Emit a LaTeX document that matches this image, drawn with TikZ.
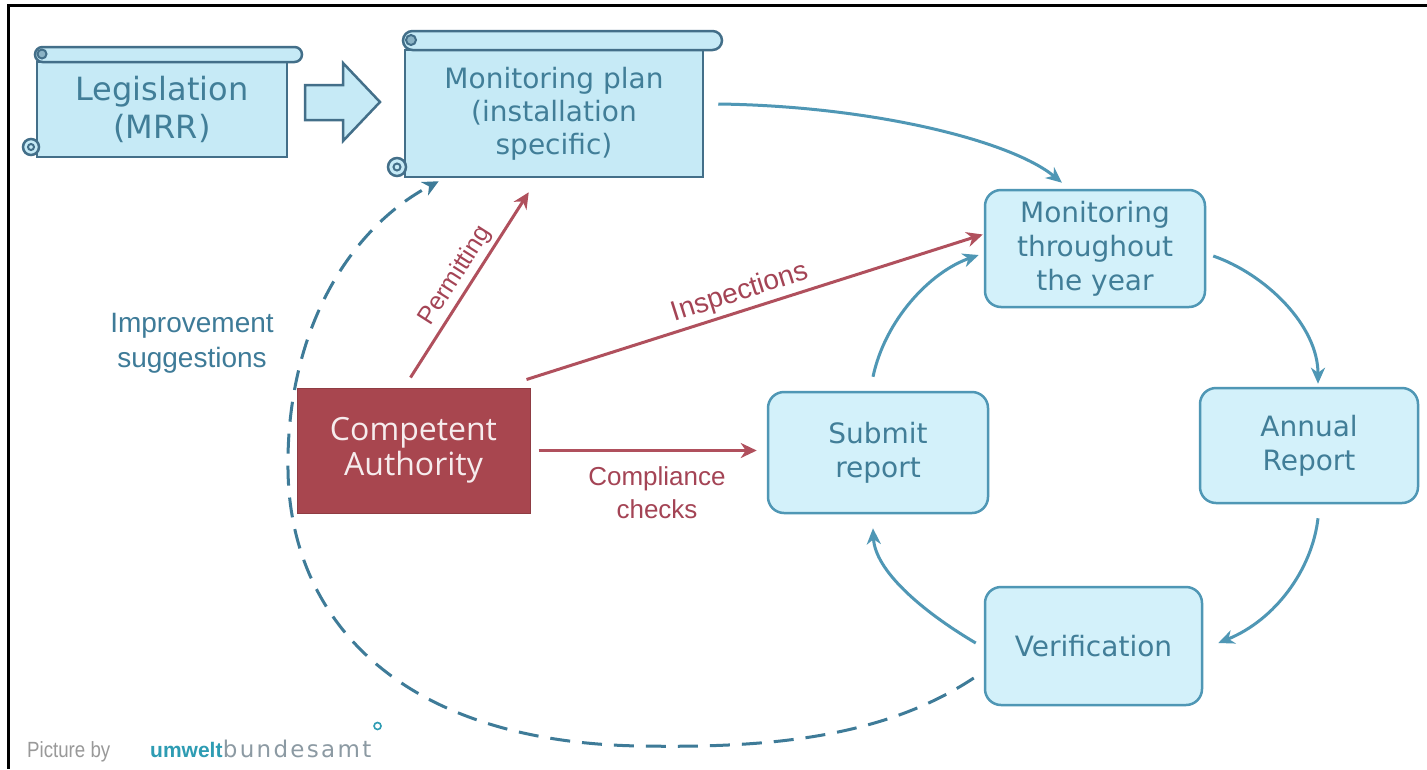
\documentclass[tikz,border=0pt]{standalone}
\usepackage{fontspec}
\setmainfont{DejaVu Sans}
\newfontfamily\labelfont{Liberation Sans}
\newfontfamily\authfont{Open Sans}
\usetikzlibrary{arrows.meta,calc}

\definecolor{cyanfill}{HTML}{D3F1FA}
\definecolor{scrollfill}{HTML}{C6EAF6}
\definecolor{cyanline}{HTML}{4F97B5}
\definecolor{scrollline}{HTML}{436F89}
\definecolor{cyantext}{HTML}{417E98}
\definecolor{authfill}{HTML}{A8464F}
\definecolor{redline}{HTML}{B0505D}
\definecolor{redtext}{HTML}{A44455}
\definecolor{dashblue}{HTML}{3E7B98}
\definecolor{ubateal}{HTML}{2E9CB3}
\definecolor{ubagray}{HTML}{8C9AA3}

\tikzset{
  roundbox/.style={draw=cyanline, fill=cyanfill, line width=2.5pt, rounded corners=16pt,
    text=cyantext, font=\fontsize{28}{34}\selectfont, align=center, inner sep=0pt},
  scrollbody/.style={draw=scrollline, fill=scrollfill, line width=2.5pt,
    text=cyantext, align=center, inner sep=0pt},
  scrolldeco/.style={draw=scrollline, fill=scrollfill, line width=2.5pt},
  authbox/.style={fill=authfill, draw=authfill!85!black, line width=1pt,
    text=white!90!authfill, font=\authfont\fontsize{32}{35}\selectfont, align=center},
  redarrow/.style={draw=redline, line width=3pt, -{Stealth[length=16pt,width=15pt,inset=5pt]}},
  bluearrow/.style={draw=cyanline, line width=3pt, -{Stealth[length=16pt,width=14pt,inset=5pt]}},
  dasharrow/.style={draw=dashblue, line width=3pt, dash pattern=on 20pt off 12pt,
    -{Stealth[length=16pt,width=15pt,inset=5pt]}},
  redlabel/.style={text=redtext, font=\labelfont\fontsize{26}{33}\selectfont, align=center},
  bluelabel/.style={text=dashblue, font=\labelfont\fontsize{28}{35}\selectfont, align=center},
}

\begin{document}
\begin{tikzpicture}[x=1pt,y=-1pt]
\useasboundingbox (0,0) rectangle (1427,769);
\fill[white] (0,0) rectangle (1427,769);

% outer frame (top and left edges)
\draw[black, line width=3pt] (1427,5) -- (8,5) -- (8,769);

% ---- Legislation scroll ----
\node[scrollbody, minimum width=250pt, minimum height=95pt,
      font=\fontsize{32}{38}\selectfont] (leg) at (162,109.5) {Legislation\\(MRR)};
\draw[scrolldeco, rounded corners=7.5pt] (35,47) rectangle (302,62);
\draw[scrolldeco, fill=scrollline!45!scrollfill, line width=2pt] (42,54) circle (4.5pt);
\draw[scrolldeco] (31,147) circle (8pt);
\draw[scrollline, line width=2pt] (31,147) circle (3pt);

% hollow block arrow
\draw[scrolldeco, line join=miter] (305,85) -- (343,85) -- (343,63) -- (380,102)
  -- (343,141) -- (343,120) -- (305,120) -- cycle;

% ---- Monitoring plan scroll ----
\node[scrollbody, minimum width=298pt, minimum height=127pt,
      font=\fontsize{28}{33}\selectfont] (plan) at (554,113.5)
  {Monitoring plan\\(installation\\specific)};
\draw[scrolldeco, rounded corners=9.5pt] (403,31) rectangle (722,50);
\draw[scrolldeco, fill=scrollline!45!scrollfill, line width=2pt] (411,40) circle (5pt);
\draw[scrolldeco] (397,167) circle (9pt);
\draw[scrollline, line width=2pt] (397,167) circle (3.5pt);

% ---- cycle boxes ----
\node[roundbox, minimum width=220pt, minimum height=117pt] (mon) at (1095,248.5)
  {Monitoring\\throughout\\the year};
\node[roundbox, minimum width=218pt, minimum height=115pt] (ann) at (1309,445.5)
  {Annual\\Report};
\node[roundbox, minimum width=217pt, minimum height=118pt] (ver) at (1093.5,646)
  {Verification};
\node[roundbox, minimum width=220pt, minimum height=121pt] (sub) at (878,452.5)
  {Submit\\report};

% ---- competent authority ----
\node[authbox, minimum width=233pt, minimum height=125pt] (auth) at (413.5,450.5)
  {Competent\\Authority};

% ---- authority connectors ----
\draw[redarrow] ($(auth.north)+(-3,-10)$) -- ($(plan.south west)+(125,14)$)
  node[redlabel, sloped, above, pos=0.5, font=\labelfont\fontsize{25}{30}\selectfont] {Permitting};
\draw[redarrow] ($(auth.north east)+(-4,-8)$) -- ($(mon.west)+(-1,-14)$)
  node[redlabel, sloped, above, pos=0.48, font=\labelfont\fontsize{28}{33}\selectfont] {Inspections};
\draw[redarrow] ($(auth.east)+(8,0)$) -- ($(sub.west)+(-10,-2)$);
\node[redlabel] (compl) at (657,493) {Compliance\\checks};

% ---- plan to monitoring ----
\draw[bluearrow] ($(plan.east)+(14,-9.5)$) .. controls (870,106) and (1010,140)
  .. ($(mon.north)+(-33,-6)$);

% ---- the yearly cycle ----
\draw[bluearrow] ($(mon.east)+(7,7.5)$) .. controls (1265,274) and (1318,325)
  .. ($(ann.north)+(9,-3)$);
\draw[bluearrow] ($(ann.south)+(9,14)$) .. controls (1312,570) and (1275,620)
  .. ($(ver.east)+(15,-3)$);
\draw[bluearrow] ($(ver.west)+(-8,-3)$) .. controls (920,610) and (875,570)
  .. ($(sub.south)+(-5,14)$);
\draw[bluearrow] ($(sub.north)+(-5,-14)$) .. controls (885,320) and (930,272)
  .. ($(mon.west)+(-5,6.5)$);

% ---- feedback loop ----
\draw[dasharrow] ($(ver.west)+(-10,32)$) .. controls (880,740) and (760,748) .. (640,746)
  .. controls (400,742) and (290,620) .. (288,470)
  .. controls (286,330) and (350,228) .. ($(plan.south west)+(35,3)$);
\node[bluelabel] (impr) at (192,343) {Improvement\\suggestions};

% ---- credit line ----
\node[anchor=base west, inner sep=0pt, xscale=0.85, text=gray!80,
      font=\labelfont\fontsize{22}{22}\selectfont] (credit) at (27,757) {Picture by};
\node[anchor=base west, inner sep=0pt, text=ubateal,
      font=\labelfont\bfseries\fontsize{21}{21}\selectfont] (uba) at (150,757) {umwelt};
\node[anchor=base west, inner sep=0pt, text=ubagray,
      font=\addfontfeature{LetterSpace=10}\fontsize{23}{23}\selectfont]
  (ubb) at (uba.base east) {bundesamt};
\draw[ubateal, line width=1.6pt] ($(ubb.base east)+(6,-31)$) circle (3.5pt);
\end{tikzpicture}
\end{document}
